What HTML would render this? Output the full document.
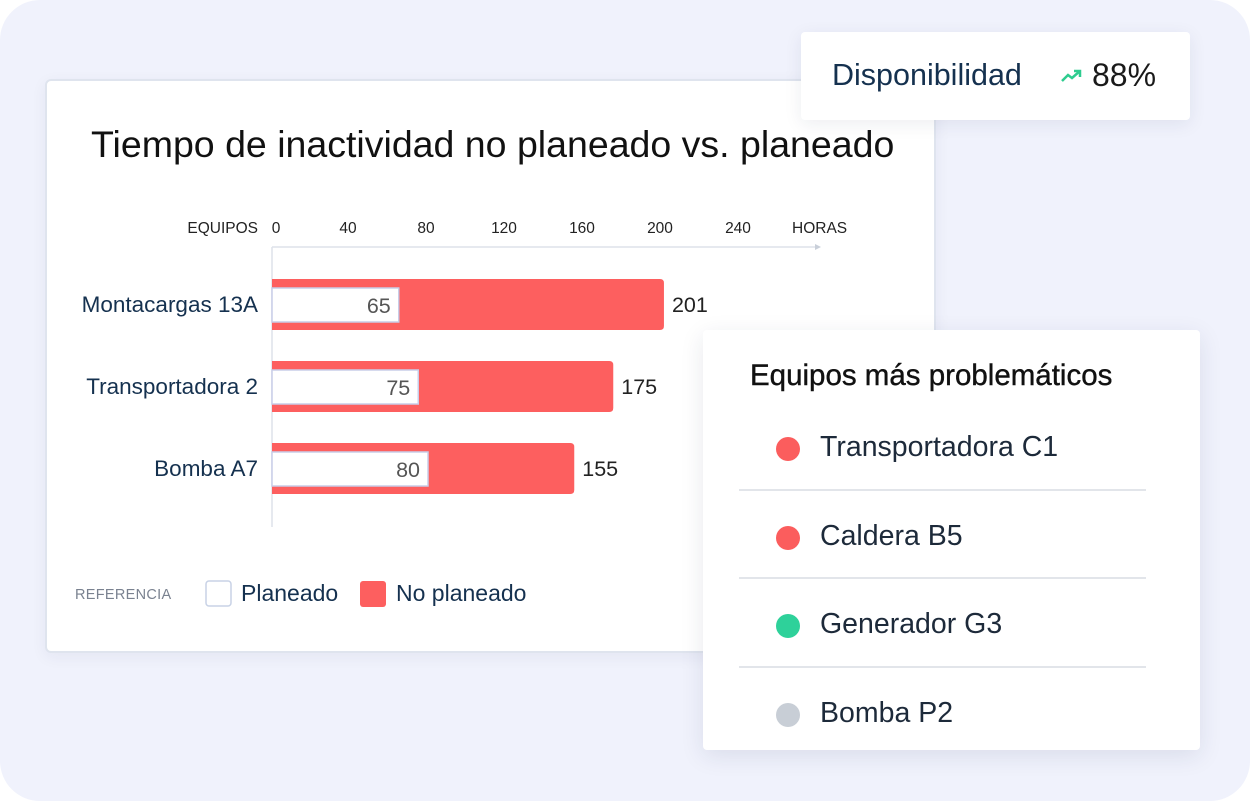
<!DOCTYPE html>
<html><head><meta charset="utf-8"><style>
body{margin:0;width:1250px;height:801px;background:#fff;font-family:"Liberation Sans",sans-serif;overflow:hidden;position:relative}
.bg{position:absolute;left:0;top:0;width:1250px;height:801px;background:#f0f2fc;border-radius:40px}
.card{position:absolute;left:45px;top:79px;width:887px;height:570px;background:#fff;border:2px solid #dfe4ee;border-radius:6px;box-shadow:0 4px 16px rgba(30,40,80,.06)}
.title{position:absolute;left:91px;top:123px;font-size:37.5px;color:#111;letter-spacing:0px}
.disp{position:absolute;left:801px;top:32px;width:389px;height:88px;background:#fff;border-radius:4px;box-shadow:0 4px 18px rgba(30,40,80,.08)}
.list{position:absolute;left:703px;top:330px;width:497px;height:420px;background:#fff;border-radius:4px;box-shadow:0 6px 24px rgba(30,40,80,.10)}
.item{position:absolute;left:36px;width:407px;height:88px;font-size:28.5px;color:#1d2a3a}
.item .dot{position:absolute;left:37px;top:37px;width:24px;height:24px;border-radius:50%}
.item span.t{position:absolute;left:81px;top:31px}
.sep{position:absolute;left:36px;width:407px;height:2px;background:#e2e5ea}
</style></head><body>
<div class="bg"></div>
<div class="card"></div>
<div class="title">Tiempo de inactividad no planeado vs. planeado</div>
<svg id="chart" style="position:absolute;left:0;top:0" width="1250" height="801" font-family="Liberation Sans, sans-serif"></svg>
<div class="disp">
<span style="position:absolute;left:31px;top:26px;font-size:30.5px;color:#15314f">Disponibilidad</span>
<svg style="position:absolute;left:260px;top:36px" width="22" height="16"><polyline points="1,13 7,7 11,10 19,3" fill="none" stroke="#2ecc8f" stroke-width="2.5"/><polyline points="13,3 19,3 19,9" fill="none" stroke="#2ecc8f" stroke-width="2.5"/></svg>
<span style="position:absolute;left:291px;top:25px;font-size:32px;color:#1a1a1a">88%</span>
</div>
<div class="list">
<div style="position:absolute;left:47px;top:29px;font-size:29.5px;color:#111;-webkit-text-stroke:0.4px #111">Equipos más problemáticos</div>
<div class="item" style="top:70px"><div class="dot" style="background:#fb5d5d"></div><span class="t">Transportadora C1</span></div>
<div class="sep" style="top:159px"></div>
<div class="item" style="top:159px"><div class="dot" style="background:#fb5d5d"></div><span class="t">Caldera B5</span></div>
<div class="sep" style="top:247px"></div>
<div class="item" style="top:247px"><div class="dot" style="background:#2ed19a"></div><span class="t">Generador G3</span></div>
<div class="sep" style="top:336px"></div>
<div class="item" style="top:336px"><div class="dot" style="background:#c8ced6"></div><span class="t">Bomba P2</span></div>
</div>
<script>
const categories=["Montacargas 13A","Transportadora 2","Bomba A7"];
const planned=[65,75,80];
const unplanned=[201,175,155];
const ticks=[0,40,80,120,160,200,240];
const NS="http://www.w3.org/2000/svg";
const svg=document.getElementById('chart');
const X0=272,K=1.95;
function x(v){return X0+v*K;}
function yBar(i){return 279+i*82;}
function mk(t,a,txt){const e=document.createElementNS(NS,t);for(const k in a)e.setAttribute(k,a[k]);if(txt!==undefined)e.textContent=txt;svg.appendChild(e);return e;}
let e=mk('line',{x1:X0,y1:247,x2:818,y2:247,stroke:'#dde2ea','stroke-width':1.5});


e=mk('polygon',{points:'815,244 821,247 815,250',fill:'#c9cfd9'});


e=mk('line',{x1:X0,y1:247,x2:X0,y2:527,stroke:'#dde2ea','stroke-width':1.5});


e=mk('text',{x:258,y:233,'font-size':15.5,fill:'#222','text-anchor':'end'},'EQUIPOS');


e=mk('text',{x:792,y:233,'font-size':15.5,fill:'#222'},'HORAS');


ticks.forEach(t=>{
  const tx=mk('text',{x:t===0?276:x(t)-2,y:233,'font-size':15.5,fill:'#222','text-anchor':'middle'},String(t));
  
  
});
categories.forEach((c,i)=>{
  const y=yBar(i);
  const lab=mk('text',{x:258,y:y+33,'font-size':22.5,fill:'#15314f','text-anchor':'end'},c);
  
  
  const w=x(unplanned[i])-X0;
  const r=mk('path',{d:`M${X0},${y}H${X0+w-4}Q${X0+w},${y} ${X0+w},${y+4}V${y+47}Q${X0+w},${y+51} ${X0+w-4},${y+51}H${X0}Z`,fill:'#fd5f5f'});
  
  
  const v=mk('text',{x:X0+w+8,y:y+33,'font-size':21.5,fill:'#222'},String(unplanned[i]));
  
  
  const pw=x(planned[i])-X0;
  const p=mk('rect',{x:X0,y:y+9,width:pw,height:34,fill:'#fff',stroke:'#c8cde8','stroke-width':1.5});
  
  
  const pv=mk('text',{x:X0+pw-8,y:y+34,'font-size':21.5,fill:'#555','text-anchor':'end'},String(planned[i]));
  
  
});
e=mk('text',{x:75,y:599,'font-size':14.5,fill:'#7a8290','letter-spacing':0.3},'REFERENCIA');


e=mk('rect',{x:206,y:581,width:25,height:25,rx:3,fill:'#fff',stroke:'#c8d2e6','stroke-width':1.5});


e=mk('text',{x:241,y:601,'font-size':23,fill:'#15314f'},'Planeado');


e=mk('rect',{x:360,y:581,width:26,height:26,rx:3,fill:'#fd5f5f'});


e=mk('text',{x:396,y:601,'font-size':23,fill:'#15314f'},'No planeado');


</script>
</body></html>
